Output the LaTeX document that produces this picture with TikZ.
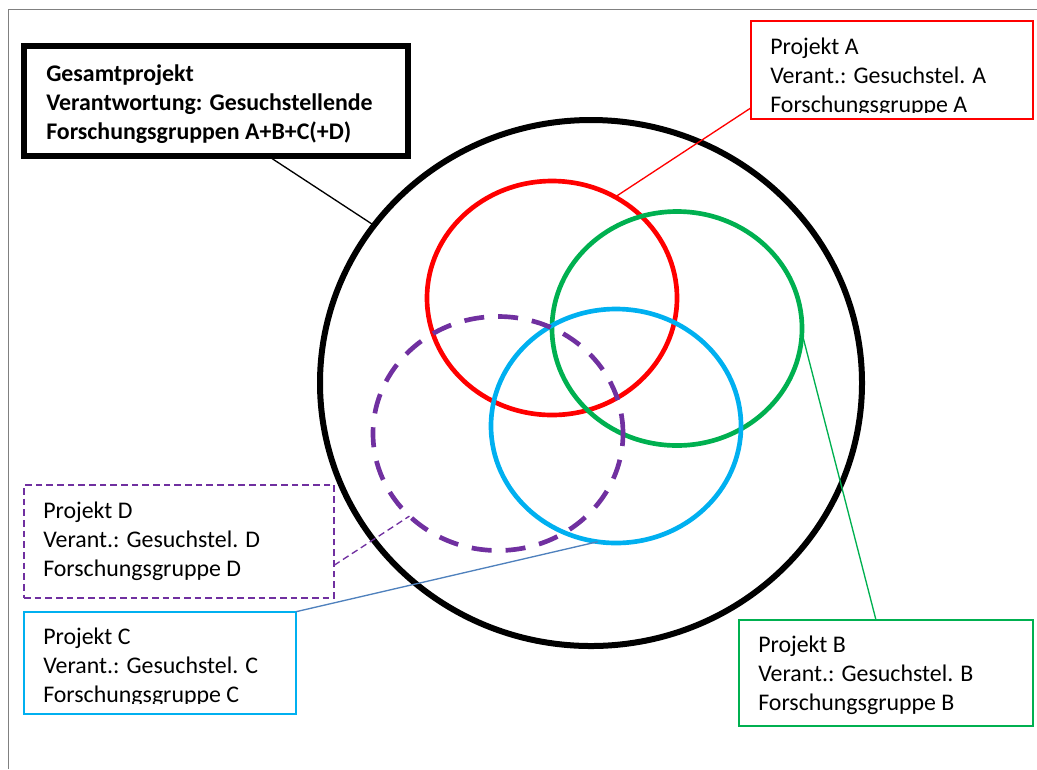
\documentclass[tikz,border=0pt]{standalone}
\usepackage{fontspec}
\setmainfont{Carlito}
\usepackage{tikz}
\usepackage{color}
\usetikzlibrary{shapes.geometric}
\definecolor{projA}{HTML}{FF0000}
\definecolor{projB}{HTML}{00B050}
\definecolor{projC}{HTML}{00B0F0}
\definecolor{projD}{HTML}{7030A0}
\definecolor{lineC}{HTML}{4F81BD}

\begin{document}
\begin{tikzpicture}[x=0.75pt, y=-0.75pt, font=\fontsize{17.9pt}{21.75pt}\selectfont,
  ring/.style = {draw, ellipse, inner sep=0pt, outer sep=0pt, line width=3.5pt, minimum width=187.5pt, minimum height=175.5pt},
  box/.style = {draw, rectangle, anchor=north west, inner sep=0pt, outer sep=0pt, line width=1.5pt},
  txt/.style = {anchor=north west, inner sep=0pt, align=left},
  link/.style = {line width=1pt}]
  \useasboundingbox (0,0) rectangle (1037,769);
  \draw[gray, line width=0.75pt] (8,769) -- (8,9) -- (1037,9);

  \node[draw, ellipse, inner sep=0pt, outer sep=0pt, line width=4.5pt, minimum width=406.5pt, minimum height=394.5pt] (all) at (591,383) {};
  \node[ring, projA] (a) at (552,298) {};
  \node[ring, projB] (b) at (677,328.5) {};
  \node[ring, projC] (c) at (616,426) {};
  \node[ring, projD, dash pattern=on 15pt off 10.5pt] (d) at (498,433.5) {};

  \node[box, line width=4.5pt, minimum width=288pt, minimum height=82.5pt] (ges) at (23.7,45.7) {};
  \node[box, projA, minimum width=211.5pt, minimum height=73.5pt] (A) at (750.7,21) {};
  \node[box, projB, minimum width=220.5pt, minimum height=79.5pt] (B) at (739,620) {};
  \node[box, projC, minimum width=204pt, minimum height=76.5pt] (C) at (24,611.7) {};
  \node[box, projD, dash pattern=on 5pt off 3pt, minimum width=232.5pt, minimum height=84.75pt] (D) at (24,485) {};

  \node[txt, font=\fontsize{17.9pt}{21.75pt}\selectfont\bfseries] (tges) at (46,64) {Gesamtprojekt\\Verantwortung: Gesuchstellende\\Forschungsgruppen A+B+C(+D)};
  \begin{scope}
    \clip (A.north west) rectangle ([yshift=5.25pt]A.south east);
    \node[txt] (tA) at (770,38) {Projekt A\\Verant.: Gesuchstel. A\\Forschungsgruppe A};
  \end{scope}
  \node[txt] (tB) at (758,636) {Projekt B\\Verant.: Gesuchstel. B\\Forschungsgruppe B};
  \begin{scope}
    \clip (C.north west) rectangle ([yshift=7.5pt]C.south east);
    \node[txt] (tC) at (43,628) {Projekt C\\Verant.: Gesuchstel. C\\Forschungsgruppe C};
  \end{scope}
  \node[txt] (tD) at (43,502) {Projekt D\\Verant.: Gesuchstel. D\\Forschungsgruppe D};

  \draw[link] ([xshift=183pt]ges.south west) -- (all.144);
  \draw[link, projA] ([yshift=8.25pt]A.south west) -- (a.58);
  \draw[link, projB] (b.-2) -- ([xshift=102.75pt]B.north west);
  \draw[link, lineC] (c.261) -- (C.north east);
  \draw[link, projD, dash pattern=on 5pt off 3pt] ([yshift=24.5pt]D.south east) -- (d.223);
\end{tikzpicture}
\end{document}
